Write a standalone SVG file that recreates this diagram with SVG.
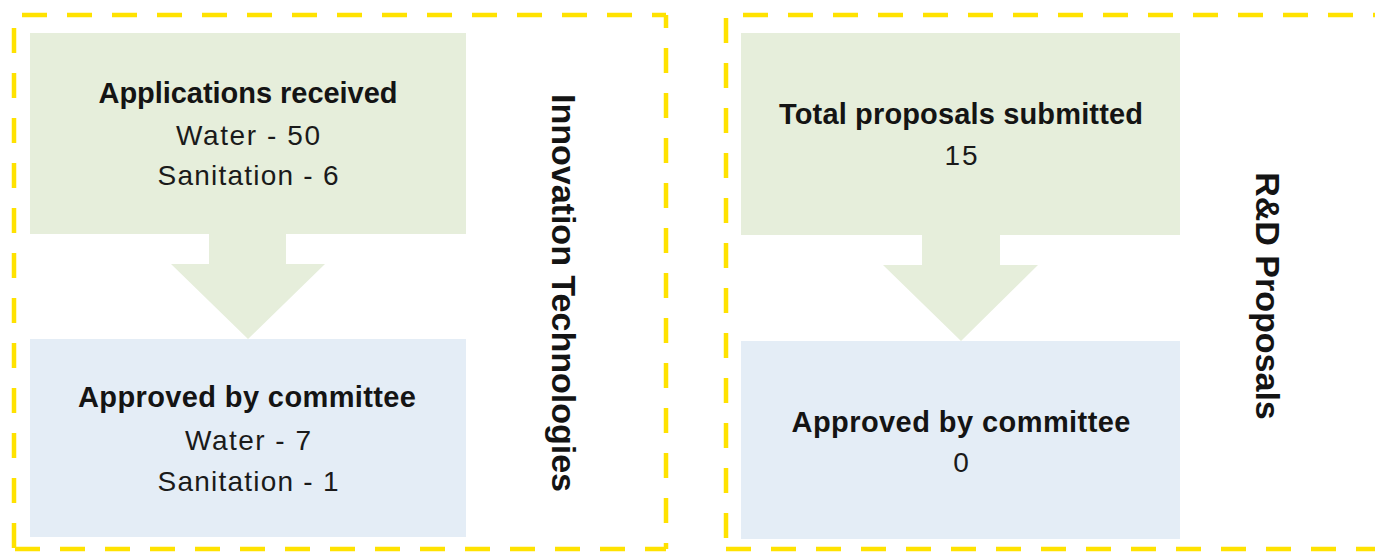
<svg xmlns="http://www.w3.org/2000/svg" width="1375" height="552" viewBox="0 0 1375 552">
  <style>
    .frame { fill: none; stroke: #FFE200; stroke-width: 4.5; stroke-dasharray: 25 20; }
    .green { fill: #E6EEDB; }
    .blue { fill: #E4EDF6; }
    .arrow { fill: #E6EEDB; }
    .b { font-family: "Liberation Sans", Arial, sans-serif; font-weight: bold; font-size: 29px; fill: #141414; text-anchor: middle; }
    .r { font-family: "Liberation Sans", Arial, sans-serif; font-size: 28px; fill: #1a1a1a; text-anchor: middle; }
    .v { font-family: "Liberation Sans", Arial, sans-serif; font-weight: bold; font-size: 34px; fill: #141414; text-anchor: middle; }
  </style>
  <rect width="1375" height="552" fill="#ffffff"/>

  <g id="panel-innovation">
    <path class="frame" d="M14,15 H666" stroke-dashoffset="37"/>
    <path class="frame" d="M14,15 V549" stroke-dashoffset="32"/>
    <path class="frame" d="M666,15 V549" stroke-dashoffset="12"/>
    <path class="frame" d="M14,549 H666" stroke-dashoffset="44"/>
    <text class="v" transform="translate(552,293) rotate(90)">Innovation Technologies</text>
  </g>

  <g id="node-applications">
    <rect class="green" x="30" y="33" width="436" height="201"/>
    <text class="b" x="248" y="103" textLength="299">Applications received</text>
    <text class="r" x="248" y="145" textLength="144">Water - 50</text>
    <text class="r" x="248" y="185" textLength="181">Sanitation - 6</text>
  </g>

  <g id="node-approved-innovation">
    <rect class="blue" x="30" y="339" width="436" height="198"/>
    <text class="b" x="247" y="407" textLength="338">Approved by committee</text>
    <text class="r" x="248" y="450" textLength="126">Water - 7</text>
    <text class="r" x="248" y="491" textLength="181">Sanitation - 1</text>
  </g>

  <g id="panel-rd">
    <path class="frame" d="M726,15 H1378" stroke-dashoffset="28"/>
    <path class="frame" d="M726,15 V549" stroke-dashoffset="42"/>
    <path class="frame" d="M726,549 H1378" stroke-dashoffset="0"/>
    <path class="frame" d="M1377.5,15 V549" stroke-dashoffset="0"/>
    <text class="v" transform="translate(1256,296) rotate(90)">R&amp;D Proposals</text>
  </g>

  <g id="node-total-proposals">
    <rect class="green" x="741" y="33" width="439" height="202"/>
    <text class="b" x="961" y="124" textLength="364">Total proposals submitted</text>
    <text class="r" x="961" y="165" textLength="33">15</text>
  </g>

  <g id="node-approved-rd">
    <rect class="blue" x="741" y="341" width="439" height="198"/>
    <text class="b" x="961" y="432" textLength="339">Approved by committee</text>
    <text class="r" x="961" y="472">0</text>
  </g>

  <g id="connectors">
    <polygon class="arrow" points="209,233 286,233 286,264 325,264 248,339 171,264 209,264"/>
    <polygon class="arrow" points="922,234 1000,234 1000,265 1038,265 961,341 883,265 922,265"/>
  </g>
</svg>
